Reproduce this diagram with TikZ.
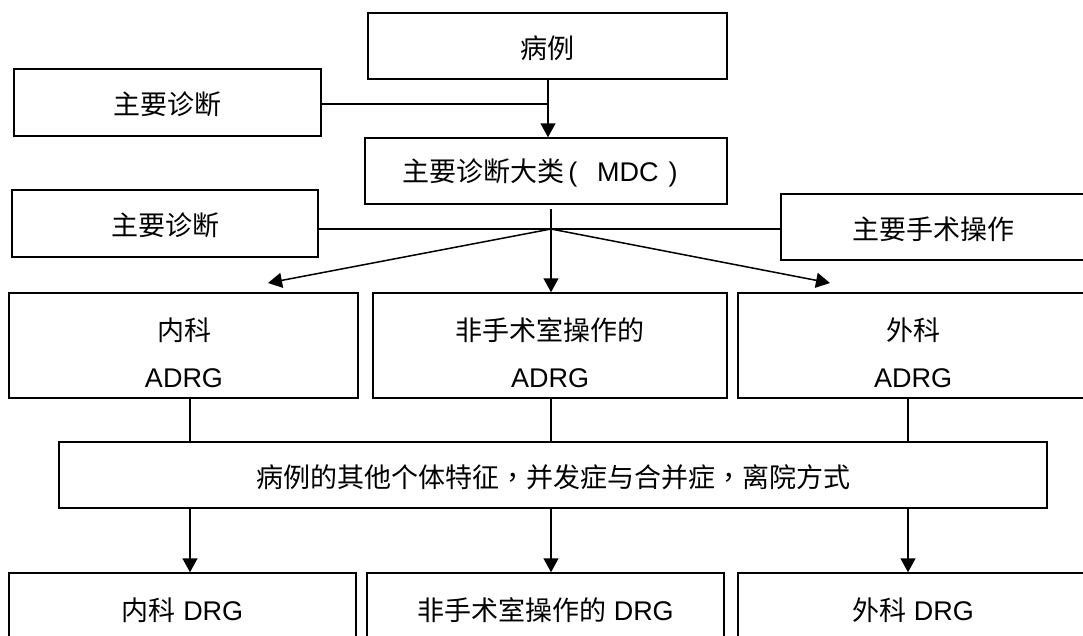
\documentclass[tikz,border=0pt]{standalone}
\usepackage{fontspec}
\setmainfont{Liberation Sans}
\newfontfamily\cjk{Noto Sans CJK SC}
\newfontfamily\cjktc{Noto Sans CJK TC}
\usetikzlibrary{arrows.meta}
\begin{document}
\begin{tikzpicture}[x=1pt,y=-1pt,
  box/.style={draw, line width=1.5pt, inner sep=0pt},
  lbl/.style={inner sep=0pt, font=\fontsize{27}{32}\selectfont},
  conn/.style={line width=1.5pt},
  arr/.style={line width=1.5pt, -{Triangle[length=14pt,width=15pt]}}]
\useasboundingbox (0,0) rectangle (1083,635);
\begin{scope}
\clip (0,0) rectangle (1083,635);
% boxes
\node[box, minimum width=359pt, minimum height=66pt] (bl) at (547.5,46) {};
\node[lbl] (tbl) at (547.5,48) {\cjk 病例};
\node[box, minimum width=307pt, minimum height=67pt] (zd1) at (167.5,102.5) {};
\node[lbl] (tzd1) at (167.5,104) {\cjk 主要诊断};
\node[box, minimum width=362pt, minimum height=66pt] (mdc) at (546,171) {};
\node[lbl] (tmdc) at (542,173) {{\cjk 主要诊断大类}\kern4pt(\kern20pt MDC\kern10pt)\kern4pt};
\node[box, minimum width=306pt, minimum height=67pt] (zd2) at (165,223.5) {};
\node[lbl] (tzd2) at (165,225) {\cjk 主要诊断};
\node[box, minimum width=304pt, minimum height=66pt] (ss) at (933,227) {};
\node[lbl] (tss) at (933,229) {\cjk 主要手术操作};
% ADRG boxes
\node[box, minimum width=349pt, minimum height=105pt] (a1) at (183.5,345.5) {};
\node[lbl] (ta1) at (184,330) {\cjk 内科};
\node[lbl] (ta1b) at (184,378) {ADRG};
\node[box, minimum width=354pt, minimum height=105pt] (a2) at (550,345.5) {};
\node[lbl] (ta2) at (550,330) {\cjk 非手术室操作的};
\node[lbl] (ta2b) at (550,378) {ADRG};
\node[box, minimum width=350pt, minimum height=105pt] (a3) at (913,345.5) {};
\node[lbl] (ta3) at (913,330) {\cjk 外科};
\node[lbl] (ta3b) at (913,378) {ADRG};
% other
\node[box, minimum width=988pt, minimum height=66pt] (oth) at (553,475) {};
\node[lbl] (toth) at (553,477) {{\cjk 病例的其他个体特征}{\cjktc ，}{\cjk 并发症与合并症}{\cjktc ，}{\cjk 离院方式}};
% DRG boxes
\node[box, minimum width=347pt, minimum height=67pt] (d1) at (182.5,606.5) {};
\node[lbl] (td1) at (182.5,610) {{\cjk 内科} DRG};
\node[box, minimum width=357pt, minimum height=67pt] (d2) at (545.5,606.5) {};
\node[lbl] (td2) at (545.5,610) {{\cjk 非手术室操作的} DRG};
\node[box, minimum width=350pt, minimum height=67pt] (d3) at (913,606.5) {};
\node[lbl] (td3) at (913,610) {{\cjk 外科} DRG};
% connectors
\coordinate (j1) at (548,104);
\draw[arr] (bl.south -| j1) -- (mdc.north -| j1);
\draw[conn] (zd1.east |- j1) -- (j1);
\coordinate (mout) at (551,209);
\coordinate (fan) at (551,229);
\coordinate (lt) at (268,283);
\coordinate (rt) at (830,283);
\draw[conn] (mout) -- (fan);
\draw[conn] (zd2.east |- fan) -- (ss.west |- fan);
\draw[arr] (fan) -- (lt);
\draw[arr] (fan) -- (rt);
\draw[arr] (fan) -- (a2.north -| fan);
\coordinate (c1) at (190,0);
\coordinate (c2) at (551,0);
\coordinate (c3) at (908,0);
\draw[conn] (a1.south -| c1) -- (oth.north -| c1);
\draw[conn] (a2.south -| c2) -- (oth.north -| c2);
\draw[conn] (a3.south -| c3) -- (oth.north -| c3);
\draw[arr] (oth.south -| c1) -- (d1.north -| c1);
\draw[arr] (oth.south -| c2) -- (d2.north -| c2);
\draw[arr] (oth.south -| c3) -- (d3.north -| c3);
\end{scope}
\end{tikzpicture}
\end{document}
